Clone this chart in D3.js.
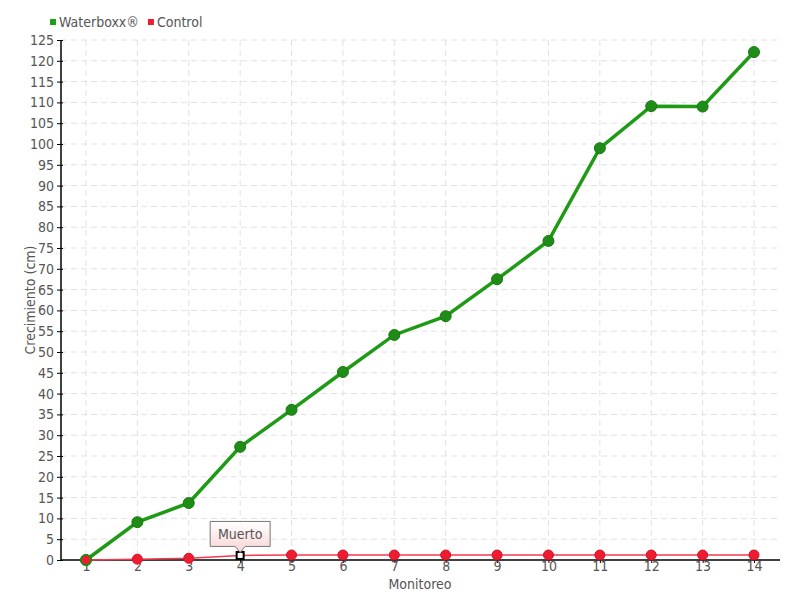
<!DOCTYPE html>
<html><head><meta charset="utf-8">
<script src="https://cdn.jsdelivr.net/npm/d3@7"></script>
<style>
body{margin:0;background:#fff;}
text{font-family:"DejaVu Sans Condensed","DejaVu Sans",sans-serif;font-stretch:condensed;fill:#555;}
</style></head>
<body><svg id="c" width="800" height="600"></svg>
<script>
const categories = ["1","2","3","4","5","6","7","8","9","10","11","12","13","14"];
const waterboxx = [0, 9.1, 13.7, 27.2, 36.1, 45.2, 54.1, 58.6, 67.5, 76.7, 99, 109.1, 109, 122.1];
const control = [0, 0.2, 0.4, 1.1, 1.2, 1.2, 1.2, 1.2, 1.2, 1.2, 1.2, 1.2, 1.2, 1.2];
const yTicks = d3.range(0, 126, 5);
const seriesNames = ["Waterboxx®", "Control"];
const annotation = {index: 3, text: "Muerto"};

const svg = d3.select("#c");
const L = 61, R = 780, T = 40, B = 560;
const x = d3.scalePoint().domain(categories).range([86, 754]);
const y = d3.scaleLinear().domain([0, 125]).range([B, T]);
const FS = "14px";

// grid
const g = svg.append("g");
g.selectAll(".hg").data(yTicks.filter(d => d > 0)).join("line")
  .attr("x1", L).attr("x2", R).attr("y1", d => y(d)).attr("y2", d => y(d))
  .attr("stroke", "#e2e2e2").attr("stroke-dasharray", "6,4");
g.selectAll(".vg").data(categories).join("line")
  .attr("x1", d => x(d)).attr("x2", d => x(d)).attr("y1", T).attr("y2", B)
  .attr("stroke", "#e2e2e2").attr("stroke-dasharray", "6,4");

// axes
const ya = svg.append("g").attr("transform", `translate(${L},0)`)
  .call(d3.axisLeft(y).tickValues(yTicks).tickSize(4).tickPadding(3));
ya.select(".domain").attr("stroke", "#000").attr("stroke-width", 1.5).attr("d", `M0,${T}V${B}`);
ya.selectAll(".tick line").attr("stroke", "#000").attr("x2", -4).attr("x1", 2);
ya.selectAll("text").style("font-size", FS).attr("fill", "#555");

const xa = svg.append("g").attr("transform", `translate(0,${B})`)
  .call(d3.axisBottom(x).tickSize(3).tickPadding(0));
xa.select(".domain").attr("stroke", "#000").attr("stroke-width", 1.5).attr("d", `M${L},0H${R}`);
xa.selectAll(".tick line").attr("stroke", "#000");
xa.selectAll("text").style("font-size", FS).attr("fill", "#555").attr("dy", "0.55em");

svg.append("text").attr("x", 420).attr("y", 589).attr("text-anchor", "middle")
  .style("font-size", FS).text("Monitoreo");
svg.append("text").attr("transform", "translate(35,300) rotate(-90)").attr("text-anchor", "middle")
  .style("font-size", FS).text("Crecimiento (cm)");

// lines
const line = d3.line().x((d, i) => x(categories[i])).y(d => y(d));
svg.append("path").datum(control).attr("d", line).attr("fill", "none")
  .attr("stroke", "#f43a4e").attr("stroke-width", 1.5);
svg.append("path").datum(waterboxx).attr("d", line).attr("fill", "none")
  .attr("stroke", "#1f9a14").attr("stroke-width", 3.5);

const cData = control.map((v, i) => ({v, i})).filter(d => d.i !== annotation.index);
svg.selectAll(".cp").data(cData).join("circle")
  .attr("cx", d => x(categories[d.i])).attr("cy", d => y(d.v)).attr("r", 5)
  .attr("fill", "#ee1c30").attr("stroke", "#d81026").attr("stroke-width", 1);
svg.selectAll(".wp").data(waterboxx).join("circle")
  .attr("cx", (d, i) => x(categories[i])).attr("cy", d => y(d)).attr("r", 5.5)
  .attr("fill", "#1e8c16").attr("stroke", "#1a7a12").attr("stroke-width", 1);
svg.append("circle").attr("cx", x(categories[0])).attr("cy", y(control[0])).attr("r", 5)
  .attr("fill", "#ee1c30").attr("stroke", "#1e8c16").attr("stroke-width", 1.5);

// annotation marker
const ax = x(categories[annotation.index]), ay = y(control[annotation.index]);
svg.append("rect").attr("x", ax - 3.5).attr("y", ay - 3.5).attr("width", 7).attr("height", 7)
  .attr("fill", "#fff").attr("stroke", "#000").attr("stroke-width", 2);
const defs = svg.append("defs");
const gr = defs.append("linearGradient").attr("id", "lg").attr("x1", 0).attr("y1", 0).attr("x2", 0).attr("y2", 1);
gr.append("stop").attr("offset", "0").attr("stop-color", "#fff");
gr.append("stop").attr("offset", "1").attr("stop-color", "#f9d4d4");
const bx = ax - 30, by = ay - 34, bw = 60, bh = 25;
svg.append("path")
  .attr("d", `M${bx},${by}H${bx+bw}V${by+bh}H${ax+5}L${ax},${by+bh+6}L${ax-5},${by+bh}H${bx}Z`)
  .attr("fill", "url(#lg)").attr("stroke", "#777").attr("stroke-width", 1);
svg.append("text").attr("x", ax).attr("y", by + 18).attr("text-anchor", "middle")
  .style("font-size", FS).text(annotation.text);

// legend
const colors = ["#1fa014", "#ee1c30"];
const lg = svg.append("g");
let lx = 50;
seriesNames.forEach((n, i) => {
  lg.append("rect").attr("x", lx).attr("y", 19).attr("width", 6).attr("height", 6).attr("fill", colors[i]);
  const t = lg.append("text").attr("x", lx + 9).attr("y", 27).style("font-size", FS).text(n);
  lx += 9 + t.node().getComputedTextLength() + 9;
});
</script></body></html>
